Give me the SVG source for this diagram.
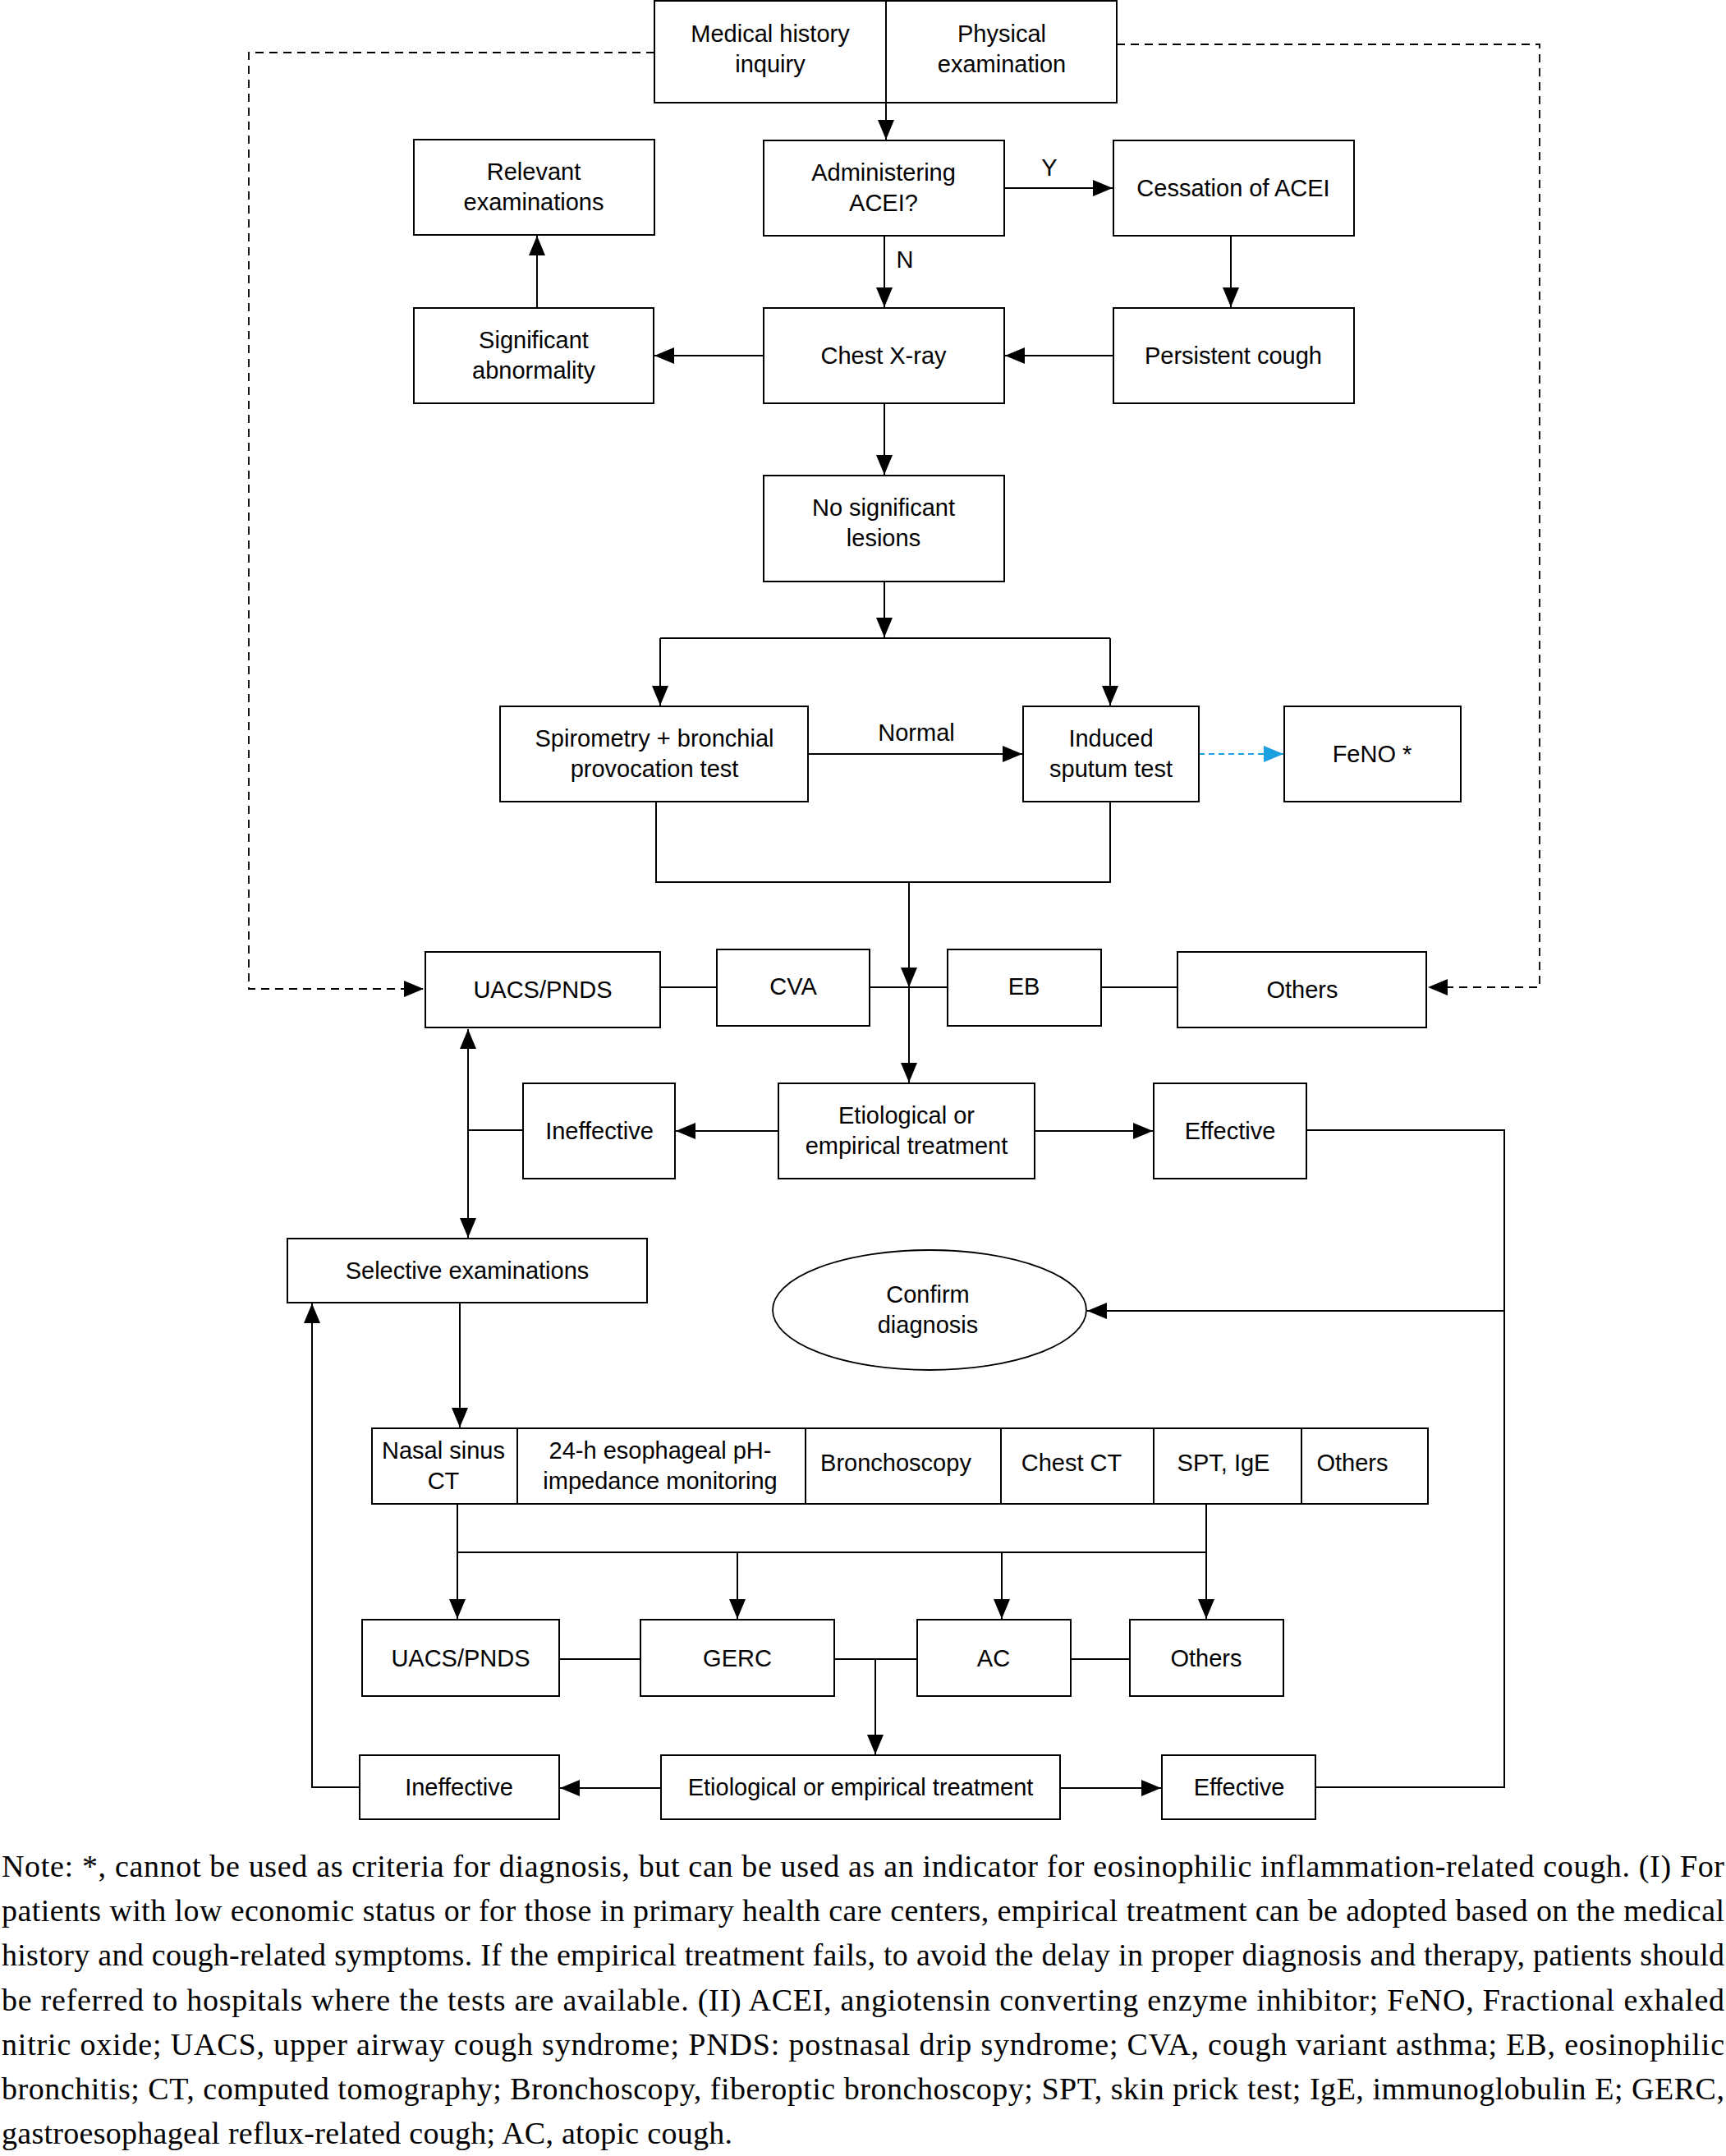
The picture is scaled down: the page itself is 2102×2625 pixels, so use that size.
<svg xmlns="http://www.w3.org/2000/svg" width="2102" height="2625" viewBox="0 0 2102 2625">
<defs>
<style>
.box{fill:#fff;stroke:#000;stroke-width:2}
.t{font-family:"Liberation Sans",Arial,sans-serif;font-size:29px;fill:#000;text-anchor:middle}
.ln{fill:none;stroke:#000;stroke-width:2}
.ar{fill:none;stroke:#000;stroke-width:2;marker-end:url(#ah)}
.da{fill:none;stroke:#000;stroke-width:1.8;stroke-dasharray:10 7;marker-end:url(#ah)}
.bl{fill:none;stroke:#1a9fe0;stroke-width:2;stroke-dasharray:7 5;marker-end:url(#ahb)}
.note{font-family:"Liberation Serif","Times New Roman",serif;font-size:38px;fill:#000}
</style>
<marker id="ah" markerUnits="userSpaceOnUse" markerWidth="24" markerHeight="20" refX="24" refY="10" orient="auto"><path d="M0,0 L24,10 L0,20 z" fill="#000"/></marker>
<marker id="ahs" markerUnits="userSpaceOnUse" markerWidth="24" markerHeight="20" refX="0" refY="10" orient="auto"><path d="M24,0 L0,10 L24,20 z" fill="#000"/></marker>
<marker id="ahb" markerUnits="userSpaceOnUse" markerWidth="24" markerHeight="20" refX="24" refY="10" orient="auto"><path d="M0,0 L24,10 L0,20 z" fill="#1a9fe0"/></marker>
</defs>
<rect width="2102" height="2625" fill="#fff"/>

<g id="connectors">
<path class="da" d="M797,64 H303 V1204 H516"/>
<path class="da" d="M1360,54 H1875 V1202 H1739"/>
<path class="ar" d="M1079,125 V170"/>
<path class="ar" d="M1223,229 H1355"/>
<path class="ar" d="M1077,287 V374"/>
<path class="ar" d="M1499,287 V374"/>
<path class="ar" d="M654,375 V287"/>
<path class="ar" d="M930,433 H797"/>
<path class="ar" d="M1356,433 H1224"/>
<path class="ar" d="M1077,491 V578"/>
<path class="ar" d="M1077,708 V776"/>
<path class="ln" d="M804,777 H1352"/>
<path class="ar" d="M804,777 V859"/>
<path class="ar" d="M1352,777 V859"/>
<path class="ar" d="M984,918 H1245"/>
<path class="bl" d="M1460,918 H1563"/>
<path class="ln" d="M799,976 V1074 H1352 V976"/>
<path class="ar" d="M1107,1074 V1202"/>
<path class="ar" d="M1107,1202 V1318"/>
<path class="ln" d="M804,1202 H873"/>
<path class="ln" d="M1059,1202 H1154"/>
<path class="ln" d="M1341,1202 H1434"/>
<path class="ar" d="M948,1377 H823"/>
<path class="ar" d="M1260,1377 H1404"/>
<path class="ln" d="M637,1376 H570"/>
<path d="M570,1253 V1507" fill="none" stroke="#000" stroke-width="2" marker-start="url(#ahs)" marker-end="url(#ah)"/>
<path class="ln" d="M1591,1376 H1832 V2176 H1602"/>
<path class="ar" d="M1832,1596 H1324"/>
<path class="ar" d="M560,1586 V1738"/>
<path class="ln" d="M557,1831 V1890 H1469"/>
<path class="ln" d="M1469,1831 V1890"/>
<path class="ar" d="M557,1890 V1971"/>
<path class="ar" d="M898,1890 V1971"/>
<path class="ar" d="M1220,1890 V1971"/>
<path class="ar" d="M1469,1890 V1971"/>
<path class="ln" d="M681,2020 H780"/>
<path class="ln" d="M1016,2020 H1117"/>
<path class="ln" d="M1304,2020 H1376"/>
<path class="ar" d="M1066,2020 V2136"/>
<path class="ar" d="M805,2177 H682"/>
<path class="ar" d="M1291,2177 H1414"/>
<path class="ar" d="M438,2176 H380 V1587"/>
</g>

<g id="n-medical"><rect class="box" x="797" y="1" width="282" height="124"/><text class="t" x="938" y="51">Medical history</text><text class="t" x="938" y="88">inquiry</text></g>
<g id="n-physical"><rect class="box" x="1079" y="1" width="281" height="124"/><text class="t" x="1220" y="51">Physical</text><text class="t" x="1220" y="88">examination</text></g>
<g id="n-relevant"><rect class="box" x="504" y="170" width="293" height="116"/><text class="t" x="650" y="219">Relevant</text><text class="t" x="650" y="256">examinations</text></g>
<g id="n-acei"><rect class="box" x="930" y="171" width="293" height="116"/><text class="t" x="1076" y="220">Administering</text><text class="t" x="1076" y="257">ACEI?</text></g>
<g id="n-cessation"><rect class="box" x="1356" y="171" width="293" height="116"/><text class="t" x="1502" y="239">Cessation of ACEI</text></g>
<text class="t" x="1278" y="214">Y</text>
<text class="t" x="1102" y="326">N</text>
<g id="n-sigabn"><rect class="box" x="504" y="375" width="292" height="116"/><text class="t" x="650" y="424">Significant</text><text class="t" x="650" y="461">abnormality</text></g>
<g id="n-cxr"><rect class="box" x="930" y="375" width="293" height="116"/><text class="t" x="1076" y="443">Chest X-ray</text></g>
<g id="n-persistent"><rect class="box" x="1356" y="375" width="293" height="116"/><text class="t" x="1502" y="443">Persistent cough</text></g>
<g id="n-nosig"><rect class="box" x="930" y="579" width="293" height="129"/><text class="t" x="1076" y="628">No significant</text><text class="t" x="1076" y="665">lesions</text></g>
<g id="n-spiro"><rect class="box" x="609" y="860" width="375" height="116"/><text class="t" x="797" y="909">Spirometry + bronchial</text><text class="t" x="797" y="946">provocation test</text></g>
<text class="t" x="1116" y="902">Normal</text>
<g id="n-sputum"><rect class="box" x="1246" y="860" width="214" height="116"/><text class="t" x="1353" y="909">Induced</text><text class="t" x="1353" y="946">sputum test</text></g>
<g id="n-feno"><rect class="box" x="1564" y="860" width="215" height="116"/><text class="t" x="1671" y="928">FeNO *</text></g>
<g id="n-uacs1"><rect class="box" x="518" y="1159" width="286" height="92"/><text class="t" x="661" y="1215">UACS/PNDS</text></g>
<g id="n-cva"><rect class="box" x="873" y="1156" width="186" height="93"/><text class="t" x="966" y="1211">CVA</text></g>
<g id="n-eb"><rect class="box" x="1154" y="1156" width="187" height="93"/><text class="t" x="1247" y="1211">EB</text></g>
<g id="n-others1"><rect class="box" x="1434" y="1159" width="303" height="92"/><text class="t" x="1586" y="1215">Others</text></g>
<g id="n-ineff1"><rect class="box" x="637" y="1319" width="185" height="116"/><text class="t" x="730" y="1387">Ineffective</text></g>
<g id="n-etio1"><rect class="box" x="948" y="1319" width="312" height="116"/><text class="t" x="1104" y="1368">Etiological or</text><text class="t" x="1104" y="1405">empirical treatment</text></g>
<g id="n-eff1"><rect class="box" x="1405" y="1319" width="186" height="116"/><text class="t" x="1498" y="1387">Effective</text></g>
<g id="n-selective"><rect class="box" x="350" y="1508" width="438" height="78"/><text class="t" x="569" y="1557">Selective examinations</text></g>
<g id="n-confirm"><ellipse cx="1132" cy="1595" rx="191" ry="73" fill="#fff" stroke="#000" stroke-width="1.8"/><text class="t" x="1130" y="1586">Confirm</text><text class="t" x="1130" y="1623">diagnosis</text></g>
<g id="n-tests">
<rect class="box" x="453" y="1739" width="1286" height="92"/>
<path class="ln" d="M630,1739 V1831 M981,1739 V1831 M1219,1739 V1831 M1405,1739 V1831 M1585,1739 V1831"/>
<text class="t" x="540" y="1776">Nasal sinus</text><text class="t" x="540" y="1813">CT</text>
<text class="t" x="804" y="1776">24-h esophageal pH-</text><text class="t" x="804" y="1813">impedance monitoring</text>
<text class="t" x="1091" y="1791">Bronchoscopy</text>
<text class="t" x="1305" y="1791">Chest CT</text>
<text class="t" x="1490" y="1791">SPT, IgE</text>
<text class="t" x="1647" y="1791">Others</text>
</g>
<g id="n-uacs2"><rect class="box" x="441" y="1972" width="240" height="93"/><text class="t" x="561" y="2029">UACS/PNDS</text></g>
<g id="n-gerc"><rect class="box" x="780" y="1972" width="236" height="93"/><text class="t" x="898" y="2029">GERC</text></g>
<g id="n-ac"><rect class="box" x="1117" y="1972" width="187" height="93"/><text class="t" x="1210" y="2029">AC</text></g>
<g id="n-others2"><rect class="box" x="1376" y="1972" width="187" height="93"/><text class="t" x="1469" y="2029">Others</text></g>
<g id="n-ineff2"><rect class="box" x="438" y="2137" width="243" height="78"/><text class="t" x="559" y="2186">Ineffective</text></g>
<g id="n-etio2"><rect class="box" x="805" y="2137" width="486" height="78"/><text class="t" x="1048" y="2186">Etiological or empirical treatment</text></g>
<g id="n-eff2"><rect class="box" x="1415" y="2137" width="187" height="78"/><text class="t" x="1509" y="2186">Effective</text></g>

<g id="note">
<text class="note" x="2" y="2285" textLength="2098" lengthAdjust="spacing">Note: *, cannot be used as criteria for diagnosis, but can be used as an indicator for eosinophilic inflammation-related cough. (I) For</text>
<text class="note" x="2" y="2339" textLength="2098" lengthAdjust="spacing">patients with low economic status or for those in primary health care centers, empirical treatment can be adopted based on the medical</text>
<text class="note" x="2" y="2393" textLength="2098" lengthAdjust="spacing">history and cough-related symptoms. If the empirical treatment fails, to avoid the delay in proper diagnosis and therapy, patients should</text>
<text class="note" x="2" y="2448" textLength="2098" lengthAdjust="spacing">be referred to hospitals where the tests are available. (II) ACEI, angiotensin converting enzyme inhibitor; FeNO, Fractional exhaled</text>
<text class="note" x="2" y="2502" textLength="2098" lengthAdjust="spacing">nitric oxide; UACS, upper airway cough syndrome; PNDS: postnasal drip syndrome; CVA, cough variant asthma; EB, eosinophilic</text>
<text class="note" x="2" y="2556" textLength="2098" lengthAdjust="spacing">bronchitis; CT, computed tomography; Bronchoscopy, fiberoptic bronchoscopy; SPT, skin prick test; IgE, immunoglobulin E; GERC,</text>
<text class="note" x="2" y="2610" textLength="890" lengthAdjust="spacing">gastroesophageal reflux-related cough; AC, atopic cough.</text>
</g>
</svg>
